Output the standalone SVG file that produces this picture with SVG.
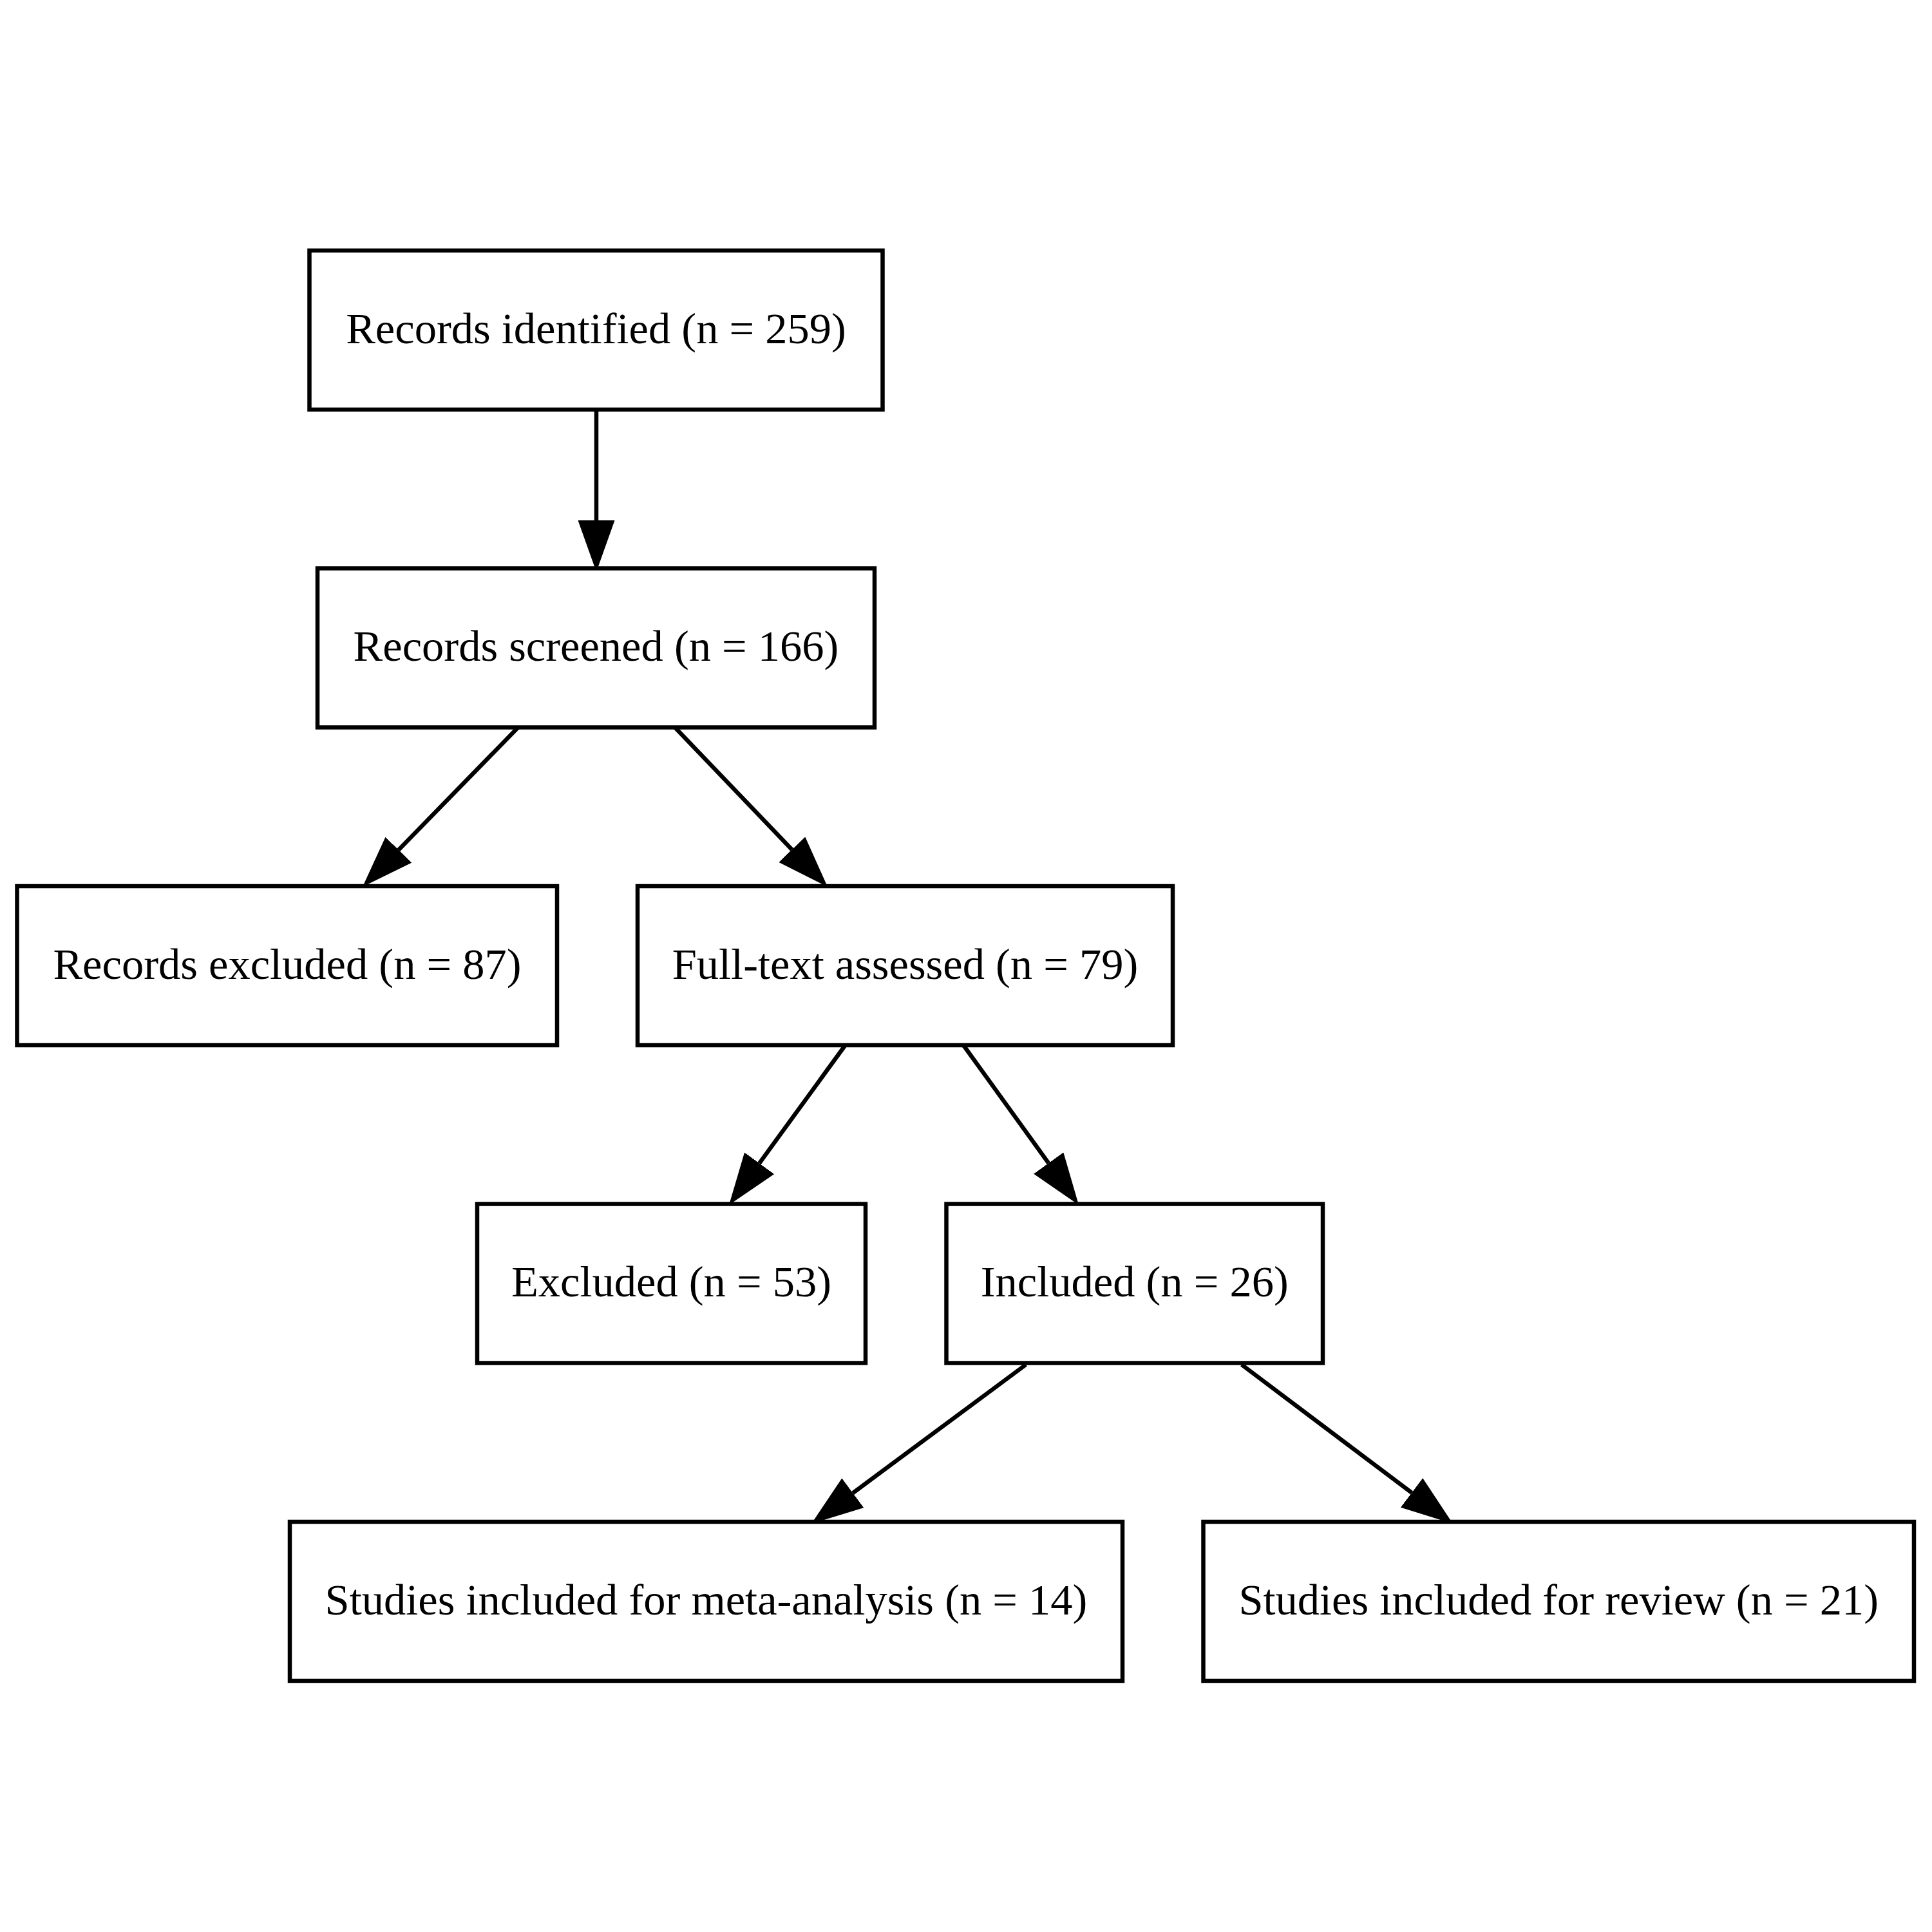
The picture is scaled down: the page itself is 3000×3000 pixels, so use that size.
<svg xmlns="http://www.w3.org/2000/svg" width="3000" height="3000" viewBox="0 0 3000 3000">
<style>
.box{fill:#ffffff;stroke:#000000;stroke-width:6.5}
.lbl{font-family:"Liberation Serif","Times New Roman",serif;font-size:68.5px;fill:#000000;text-anchor:middle}
.edge{stroke:#000000;stroke-width:6.5;fill:none;marker-end:url(#arrow)}
</style>
<defs>
<marker id="arrow" markerUnits="userSpaceOnUse" viewBox="0 0 80 57" markerWidth="80" markerHeight="57" refX="0" refY="28.5" orient="auto">
<path d="M0,0 L80,28.5 L0,57 Z" fill="#000000"/>
</marker>
</defs>
<rect width="3000" height="3000" fill="#ffffff"/>
<g id="connectors">
<line class="edge" x1="926" y1="636" x2="926" y2="808"/>
<line class="edge" x1="805" y1="1129" x2="618.9" y2="1319.7"/>
<line class="edge" x1="1047.5" y1="1129" x2="1229.7" y2="1319.2"/>
<line class="edge" x1="1312.5" y1="1623" x2="1179.1" y2="1806.3"/>
<line class="edge" x1="1496" y1="1623" x2="1628.2" y2="1806.1"/>
<line class="edge" x1="1593" y1="2119" x2="1324.3" y2="2318.3"/>
<line class="edge" x1="1928" y1="2119" x2="2192.1" y2="2317.9"/>
</g>
<g id="n_identified">
<rect class="box" x="480.5" y="389" width="890" height="247"/>
<text class="lbl" x="925.5" y="532.5">Records identified (n = 259)</text>
</g>
<g id="n_screened">
<rect class="box" x="493" y="882.5" width="865" height="247"/>
<text class="lbl" x="925.5" y="1026">Records screened (n = 166)</text>
</g>
<g id="n_records_excluded">
<rect class="box" x="26.5" y="1376" width="838.5" height="247"/>
<text class="lbl" x="446" y="1519.5">Records excluded (n = 87)</text>
</g>
<g id="n_fulltext">
<rect class="box" x="990" y="1376" width="831" height="247"/>
<text class="lbl" x="1405.5" y="1519.5">Full-text assessed (n = 79)</text>
</g>
<g id="n_excluded">
<rect class="box" x="741" y="1869.5" width="603" height="247"/>
<text class="lbl" x="1042.5" y="2013">Excluded (n = 53)</text>
</g>
<g id="n_included">
<rect class="box" x="1469.5" y="1869.5" width="584.5" height="247"/>
<text class="lbl" x="1761.75" y="2013">Included (n = 26)</text>
</g>
<g id="n_meta">
<rect class="box" x="450" y="2363" width="1293" height="247"/>
<text class="lbl" x="1096.5" y="2506.5">Studies included for meta-analysis (n = 14)</text>
</g>
<g id="n_review">
<rect class="box" x="1868.5" y="2363" width="1103.5" height="247"/>
<text class="lbl" x="2420.25" y="2506.5">Studies included for review (n = 21)</text>
</g>
</svg>
